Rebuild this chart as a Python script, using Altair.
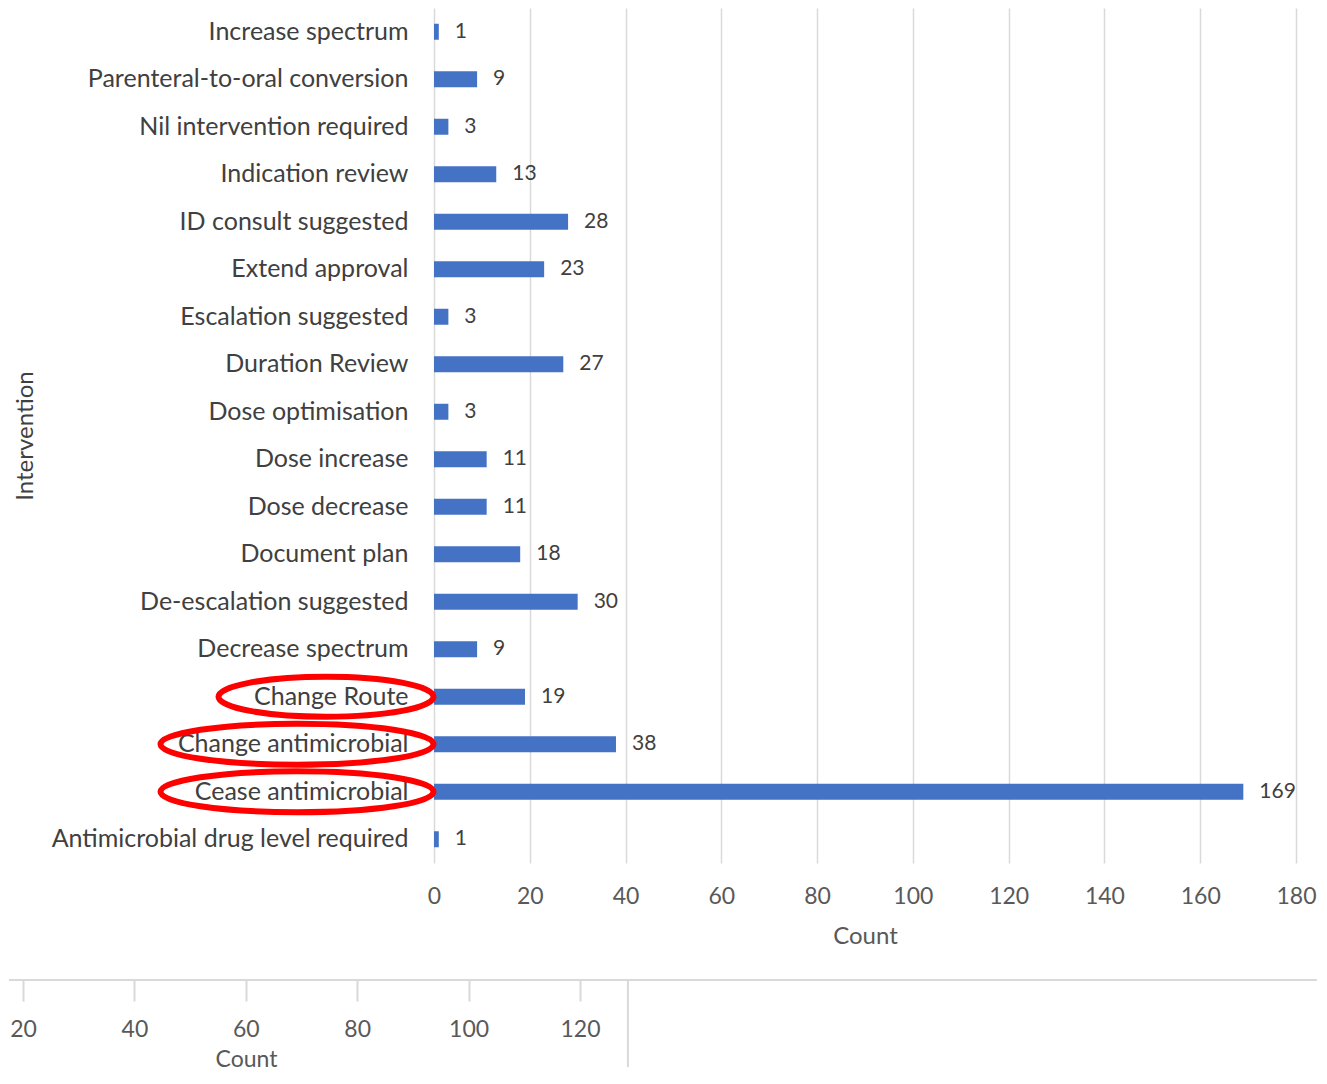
import altair as alt
import pandas as pd

# ---- data ----
categories = [
    "Increase spectrum",
    "Parenteral-to-oral conversion",
    "Nil intervention required",
    "Indication review",
    "ID consult suggested",
    "Extend approval",
    "Escalation suggested",
    "Duration Review",
    "Dose optimisation",
    "Dose increase",
    "Dose decrease",
    "Document plan",
    "De-escalation suggested",
    "Decrease spectrum",
    "Change Route",
    "Change antimicrobial",
    "Cease antimicrobial",
    "Antimicrobial drug level required",
]
counts = [1, 9, 3, 13, 28, 23, 3, 27, 3, 11, 11, 18, 30, 9, 19, 38, 169, 1]
x_ticks = [0, 20, 40, 60, 80, 100, 120, 140, 160, 180]
circled_short = ["Change Route"]
circled_long = ["Change antimicrobial", "Cease antimicrobial"]

# fragment of a second chart's axis visible at the bottom of the screenshot
lower_ticks = [20, 40, 60, 80, 100, 120]
lower_line_start = [17.49]
lower_line_end = [252.3]
lower_border = [128.6]

FONT = "Lato"
BLUE = "#4472C4"
GRID = "#d9d9d9"
TXT = "#404040"
AX = "#595959"

df = pd.DataFrame({"Intervention": categories, "Count": counts})

y_enc = alt.Y(
    "Intervention:N",
    sort=categories,
    scale=alt.Scale(paddingInner=0, paddingOuter=0),
    axis=alt.Axis(
        title="Intervention",
        labelFont=FONT, labelFontSize=25, labelColor=TXT, labelLimit=600,
        labelPadding=26, ticks=False, domain=False,
        titleFont=FONT, titleFontSize=24, titleColor=TXT, titleFontWeight="normal",
        titleX=-409, titleY=427.5, titleAlign="center", titleBaseline="middle",
    ),
)
x_enc = alt.X(
    "Count:Q",
    scale=alt.Scale(domain=[0, 180], nice=False),
    axis=alt.Axis(
        values=x_ticks, grid=True, gridColor=GRID, gridWidth=1.5,
        domain=False, ticks=False, labelFlush=False,
        labelFont=FONT, labelFontSize=23, labelColor=AX, labelPadding=22,
        title="Count", titleFont=FONT, titleFontSize=24, titleColor=AX,
        titleFontWeight="normal", titlePadding=16,
    ),
)

base = alt.Chart(df)
bars = base.mark_bar(size=16, color=BLUE).encode(x=x_enc, y=y_enc)
labels = base.mark_text(
    align="left", baseline="middle", dx=16, font=FONT, fontSize=21, color=TXT
).encode(x="Count:Q", y=alt.Y("Intervention:N", sort=categories), text="Count:Q")


def ellipse(ry):
    return f"M-1,0A1,{ry},0,1,0,1,0A1,{ry},0,1,0,-1,0Z"


ell_short = base.transform_filter(
    alt.FieldOneOfPredicate(field="Intervention", oneOf=circled_short)
).mark_point(
    shape=ellipse(0.186), filled=False, color="#ff0000", strokeWidth=6, opacity=1, size=46225
).encode(y=alt.Y("Intervention:N", sort=categories), x=alt.value(-108))

ell_long = base.transform_filter(
    alt.FieldOneOfPredicate(field="Intervention", oneOf=circled_long)
).mark_point(
    shape=ellipse(0.150), filled=False, color="#ff0000", strokeWidth=6, opacity=1, size=74529
).encode(y=alt.Y("Intervention:N", sort=categories), x=alt.value(-137))

main = alt.layer(bars, labels, ell_short, ell_long).properties(width=862, height=855)

# lower fragment (axis of a chart below, cut off by the screenshot)
frag_scale = alt.Scale(domain=[20, 120], range=[-411, 146], nice=False, zero=False)
frag_df = pd.DataFrame({
    "border": lower_border,
    "start": lower_line_start,
    "end": lower_line_end,
})
frag_axis = alt.Axis(
    values=lower_ticks, grid=False, domain=False, labelFlush=False,
    tickColor=GRID, tickWidth=2, tickSize=21,
    labelFont=FONT, labelFontSize=23, labelColor=AX, labelPadding=17,
    title="Count", titleFont=FONT, titleFontSize=23, titleColor=AX,
    titleFontWeight="normal", titleX=-188, titleY=79,
    titleAlign="center", titleBaseline="middle",
)
frag_border = alt.Chart(frag_df).mark_rule(color=GRID, strokeWidth=2).encode(
    x=alt.X("border:Q", scale=frag_scale, axis=frag_axis),
    y=alt.value(1),
    y2=alt.value(88),
)
frag_line = alt.Chart(frag_df).mark_rule(color=GRID, strokeWidth=2).encode(
    x=alt.X("start:Q", scale=frag_scale),
    x2="end:Q",
    y=alt.value(1),
)
frag = alt.layer(frag_border, frag_line).properties(width=557, height=1)

chart = alt.concat(main, frag, columns=1, align="none", spacing=31).properties(
    padding=0, background="white"
).configure_view(stroke=None)

chart.save("out.html", embed_options={"renderer": "svg", "actions": False})
